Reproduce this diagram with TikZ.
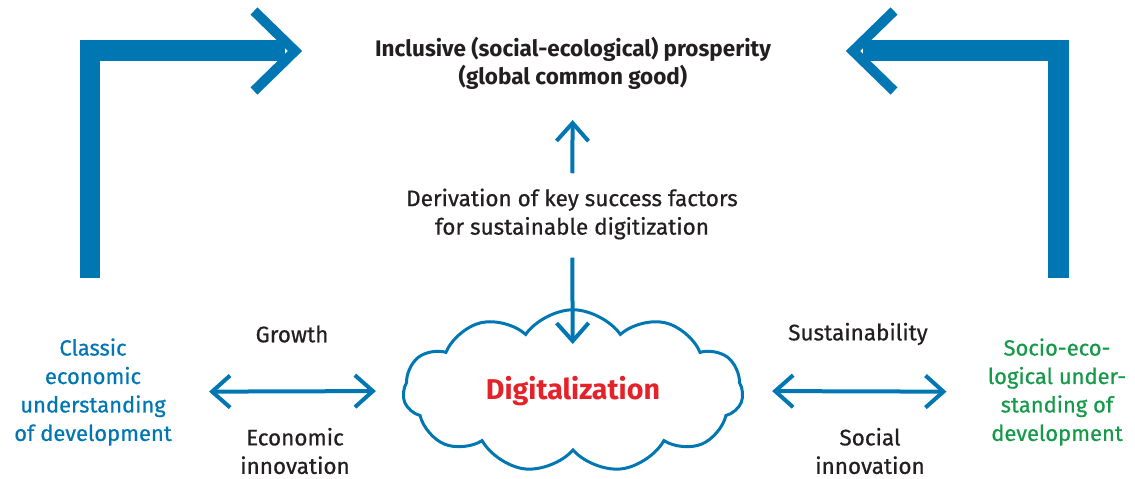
\documentclass[tikz,border=0pt]{standalone}
\usepackage{fontspec}
\setmainfont{Fira Sans}
\newfontfamily\medfont{Fira Sans}[FakeBold=0.6]
\usetikzlibrary{arrows.meta, shapes.symbols}
\definecolor{digblue}{HTML}{0077B3}
\definecolor{diggreen}{HTML}{17994A}
\definecolor{digred}{HTML}{E42229}
\definecolor{digtext}{HTML}{231F20}

\begin{document}
\begin{tikzpicture}[x=0.02cm, y=-0.02cm,
    lbl/.style={font=\fontsize{12.8}{16.2}\selectfont\medfont, text=digtext,
                align=center, inner sep=0pt},
    view/.style={lbl, font=\fontsize{12.5}{16.2}\selectfont\medfont},
    arr/.style={-{Straight Barb[length=0.36cm, width=0.64cm]}, line width=0.08cm, digblue},
    twoway/.style={arr, {Straight Barb[length=0.36cm, width=0.64cm]}-{Straight Barb[length=0.36cm, width=0.64cm]}},
    bigline/.style={line width=0.42cm, digblue, line join=miter},
    barb/.style={line width=0.2cm, digblue, line join=miter}
  ]
    \useasboundingbox (0,0) rectangle (1135,479);

    % texts
    \node[lbl, font=\fontsize{12.8}{16}\selectfont\bfseries] (prosperity) at (573,63)
      {Inclusive (social-ecological) prosperity\\(global common good)};
    \node[lbl] (derivation) at (572,214)
      {Derivation of key success factors\\for sustainable digitization};
    \node[cloud, draw=digblue, line width=0.06cm, cloud puffs=11, cloud puff arc=110,
          aspect=2, minimum width=6.8cm, minimum height=3.25cm, inner sep=0pt,
          font=\fontsize{16.3}{20}\selectfont\bfseries, text=digred] (digital) at (573,391)
      {Digitalization};
    \node[lbl] (growth) at (292,334) {Growth};
    \node[lbl] (econ) at (295,451) {Economic\\innovation};
    \node[lbl] (sustain) at (858,334) {Sustainability};
    \node[lbl] (social) at (870,451) {Social\\innovation};
    \node[view, text=digblue] (classic) at (93,392)
      {Classic\\economic\\understanding\\of development};
    \node[view, text=diggreen] (socio) at (1057,392)
      {Socio-eco-\\logical under-\\standing of\\development};

    % small arrows
    \draw[arr, shorten <=0.3cm, shorten >=0.61cm] (derivation) -- (prosperity);
    \draw[arr, shorten <=0.36cm, shorten >=0.94cm] (derivation) -- (digital.center);
    \draw[twoway, shorten <=0.74cm, shorten >=0.52cm] (classic) -- (digital.west);
    \draw[twoway, shorten <=0.56cm, shorten >=0.82cm] (digital.east) -- (socio);

    % big arrows
    \coordinate (lfoot) at (90,278);
    \coordinate (ltip) at (295,51);
    \coordinate (rfoot) at (1058,278);
    \coordinate (rtip) at (853,51);
    \draw[bigline] (lfoot) |- ([xshift=-0.2cm]ltip);
    \draw[barb] ([shift={(-41,-40)}]ltip) -- (ltip) -- ([shift={(-41,40)}]ltip);
    \draw[bigline] (rfoot) |- ([xshift=0.2cm]rtip);
    \draw[barb] ([shift={(41,-40)}]rtip) -- (rtip) -- ([shift={(41,40)}]rtip);
\end{tikzpicture}
\end{document}
